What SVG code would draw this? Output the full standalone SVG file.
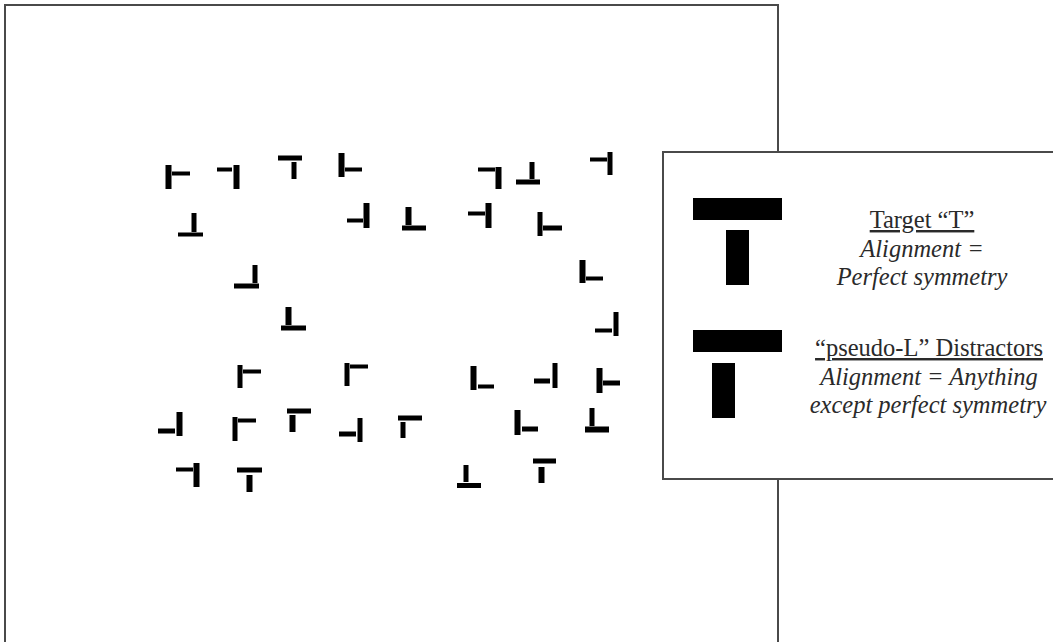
<svg xmlns="http://www.w3.org/2000/svg" width="1053" height="642" viewBox="0 0 1053 642">
<style>
.frame{fill:none;stroke:#4a4a4a;stroke-width:2}
.box{fill:#fff;stroke:#4a4a4a;stroke-width:2}
.s rect{fill:#000}
.lg rect{fill:#000}
.t{font-family:"Liberation Serif","Times New Roman",serif;font-size:24.5px;fill:#2a2a2a;text-anchor:middle}
.u{text-decoration:underline}
.i{font-style:italic}
</style>
<rect width="1053" height="642" fill="#fff"/>
<g id="display-frame">
<path class="frame" d="M5,650 V5 H778 V650"/>
</g>
<g id="stimuli" class="s">
<g id="s1"><rect x="165.5" y="165" width="6" height="24"/><rect x="172" y="171.5" width="18" height="4"/></g>
<g id="s2"><rect x="217" y="167.5" width="15" height="4"/><rect x="233.5" y="165" width="6" height="24"/></g>
<g id="s3"><rect x="278" y="155.5" width="24" height="5"/><rect x="291.5" y="162" width="5" height="17"/></g>
<g id="s4"><rect x="338.5" y="153" width="6" height="24"/><rect x="345" y="167.5" width="17" height="4"/></g>
<g id="s5"><rect x="191.5" y="213" width="5" height="19"/><rect x="178" y="232.5" width="25" height="4"/></g>
<g id="s6"><rect x="347" y="218.5" width="16" height="4"/><rect x="363.5" y="203" width="6" height="25"/></g>
<g id="s7"><rect x="478" y="167.5" width="17" height="4"/><rect x="495.5" y="167" width="6" height="22"/></g>
<g id="s8"><rect x="529.5" y="162" width="5" height="17"/><rect x="516" y="179.5" width="24" height="5"/></g>
<g id="s9"><rect x="590" y="157.5" width="17" height="4"/><rect x="607.5" y="152" width="5" height="23"/></g>
<g id="s10"><rect x="405.5" y="207" width="6" height="18"/><rect x="402" y="225.5" width="24" height="5"/></g>
<g id="s11"><rect x="468" y="211.5" width="17" height="4"/><rect x="485.5" y="203" width="6" height="25"/></g>
<g id="s12"><rect x="537.5" y="212" width="5" height="24"/><rect x="543" y="225.5" width="19" height="5"/></g>
<g id="s13"><rect x="252.5" y="265" width="5" height="18"/><rect x="234" y="283.5" width="25" height="5"/></g>
<g id="s14"><rect x="285.5" y="307" width="6" height="18"/><rect x="281" y="325.5" width="25" height="5"/></g>
<g id="s15"><rect x="579.5" y="260" width="6" height="23"/><rect x="586" y="276.5" width="17" height="4"/></g>
<g id="s16"><rect x="595" y="328.5" width="17" height="4"/><rect x="613.5" y="312" width="5" height="24"/></g>
<g id="s17"><rect x="237.5" y="365" width="5" height="23"/><rect x="243" y="369.5" width="18" height="4"/></g>
<g id="s18"><rect x="344.5" y="363" width="5" height="23"/><rect x="350" y="364.5" width="18" height="4"/></g>
<g id="s19"><rect x="158" y="428.5" width="17" height="5"/><rect x="176.5" y="412" width="6" height="24"/></g>
<g id="s20"><rect x="232.5" y="417" width="5" height="24"/><rect x="238" y="418.5" width="18" height="4"/></g>
<g id="s21"><rect x="287" y="408.5" width="24" height="5"/><rect x="289.5" y="415" width="6" height="17"/></g>
<g id="s22"><rect x="339" y="431.5" width="17" height="5"/><rect x="357.5" y="418" width="5" height="24"/></g>
<g id="s23"><rect x="398" y="415.5" width="24" height="5"/><rect x="400.5" y="422" width="5" height="16"/></g>
<g id="s24"><rect x="176" y="467.5" width="17" height="4"/><rect x="193.5" y="463" width="6" height="24"/></g>
<g id="s25"><rect x="237" y="467.5" width="25" height="5"/><rect x="246.5" y="475" width="6" height="17"/></g>
<g id="s26"><rect x="470.5" y="366" width="6" height="24"/><rect x="478" y="384.5" width="16" height="4"/></g>
<g id="s27"><rect x="534" y="378.5" width="16" height="5"/><rect x="552.5" y="363" width="5" height="25"/></g>
<g id="s28"><rect x="596.5" y="368" width="6" height="25"/><rect x="603" y="380.5" width="17" height="5"/></g>
<g id="s29"><rect x="514.5" y="410" width="6" height="25"/><rect x="522" y="426.5" width="16" height="5"/></g>
<g id="s30"><rect x="589.5" y="408" width="5" height="18"/><rect x="585" y="426.5" width="24" height="6"/></g>
<g id="s31"><rect x="463.5" y="465" width="5" height="17"/><rect x="457" y="483" width="24" height="5"/></g>
<g id="s32"><rect x="533" y="458.5" width="23" height="5"/><rect x="538.5" y="467" width="6" height="16"/></g>
</g>
<g id="legend">
<rect class="box" x="663" y="152" width="400" height="327"/>
<g id="legend-target" class="lg">
<rect x="693" y="198" width="89" height="22"/>
<rect x="726" y="230" width="23" height="55"/>
</g>
<g id="legend-distractor" class="lg">
<rect x="693" y="330" width="89" height="22"/>
<rect x="712" y="363" width="23" height="55"/>
</g>
<g id="legend-text">
<text class="t u" x="922" y="228">Target “T”</text>
<text class="t i" x="922" y="257">Alignment =</text>
<text class="t i" x="922" y="285">Perfect symmetry</text>
<text class="t u" x="929" y="356">“pseudo-L” Distractors</text>
<text class="t i" x="929" y="385">Alignment = Anything</text>
<text class="t i" x="928" y="413">except perfect symmetry</text>
</g>
</g>
</svg>
